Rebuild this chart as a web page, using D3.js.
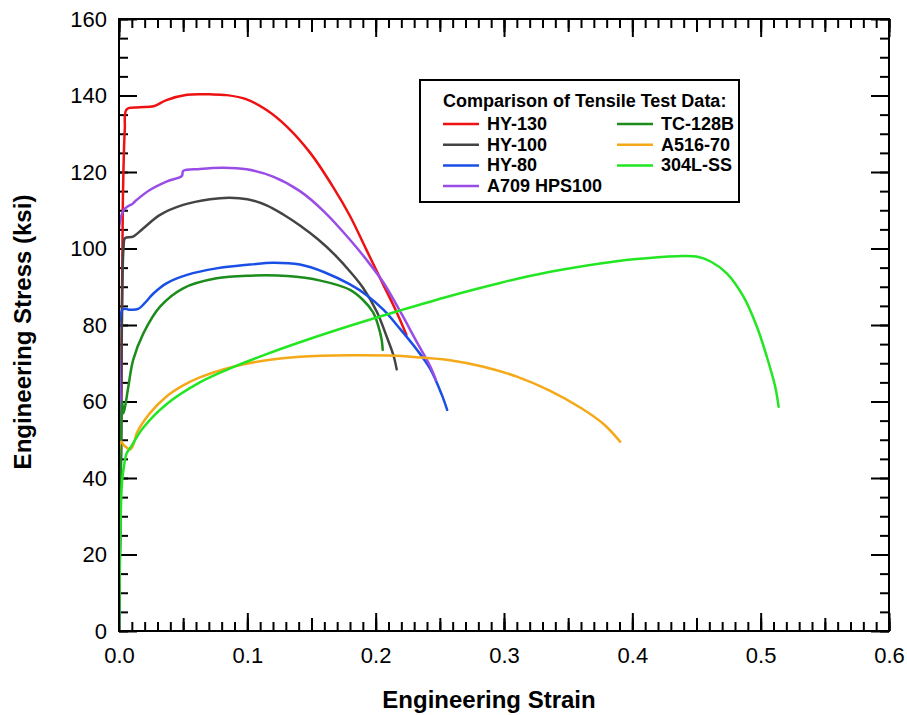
<!DOCTYPE html>
<html>
<head>
<meta charset="utf-8">
<script src="https://cdn.jsdelivr.net/npm/d3@7"></script>
<style>
  html, body { margin: 0; padding: 0; background: #fff; }
  svg { display: block; }
  text { font-family: "Liberation Sans", Arial, Helvetica, sans-serif; }
</style>
</head>
<body>
<svg id="chart" width="907" height="715"></svg>
<script>
// ---------------- DATA ----------------
const seriesNames = ["HY-130", "HY-100", "HY-80", "A709 HPS100", "TC-128B", "A516-70", "304L-SS"];
const seriesColors = ["#ee1111", "#444444", "#1a4fe6", "#9a4de6", "#1c8c1c", "#f5a818", "#22e622"];

const hy130Strain = [0, 0.0015, 0.003, 0.0045, 0.006, 0.016, 0.027, 0.037, 0.053, 0.071, 0.084, 0.0995, 0.115, 0.131, 0.149, 0.167, 0.180, 0.193, 0.206, 0.216, 0.224];
const hy130Stress = [0, 50, 112, 131, 136.4, 136.9, 137.2, 138.8, 140.2, 140.3, 140.1, 139.0, 136.2, 131.8, 125.0, 116.0, 108.5, 99.5, 90.5, 83.6, 77.4];

const hy100Strain = [0, 0.0015, 0.0035, 0.0047, 0.011, 0.019, 0.032, 0.050, 0.071, 0.086, 0.100, 0.115, 0.128, 0.141, 0.155, 0.168, 0.180, 0.190, 0.201, 0.209, 0.214, 0.2164];
const hy100Stress = [0, 45, 100, 102.7, 103.1, 105.3, 108.8, 111.4, 112.9, 113.3, 112.9, 111.3, 108.9, 106.0, 102.4, 98.4, 94.0, 89.8, 83.4, 76.6, 71.9, 68.4];

const hy80Strain = [0, 0.0015, 0.003, 0.008, 0.015, 0.020, 0.027, 0.037, 0.053, 0.076, 0.102, 0.120, 0.141, 0.160, 0.180, 0.193, 0.206, 0.219, 0.232, 0.2424, 0.2515, 0.2557];
const hy80Stress = [0, 45, 84.1, 84.0, 84.2, 85.7, 88.3, 90.9, 93.1, 94.8, 95.8, 96.3, 95.8, 93.8, 90.6, 87.8, 84.0, 79.0, 73.6, 68.6, 61.8, 57.8];

const a709Strain = [0, 0.0015, 0.0029, 0.011, 0.0138, 0.024, 0.037, 0.049, 0.050, 0.063, 0.081, 0.0995, 0.120, 0.141, 0.160, 0.180, 0.193, 0.206, 0.219, 0.232, 0.2424, 0.247];
const a709Stress = [0, 50, 109.6, 111.8, 112.7, 115.3, 117.5, 119.0, 120.3, 120.8, 121.1, 120.7, 118.8, 115.0, 109.6, 102.3, 97.0, 91.1, 83.6, 75.6, 69.3, 65.6];

const tc128Strain = [0, 0.0015, 0.0025, 0.0034, 0.0047, 0.0073, 0.011, 0.019, 0.032, 0.050, 0.076, 0.102, 0.131, 0.157, 0.180, 0.190, 0.198, 0.202, 0.2047, 0.2055];
const tc128Stress = [0, 45, 60, 56.9, 58.6, 63.9, 70.8, 77.8, 84.8, 89.6, 92.2, 92.9, 92.8, 91.6, 89.2, 86.6, 83.3, 79.8, 76.1, 73.5];

const a516Strain = [0, 0.0017, 0.004, 0.009, 0.012, 0.0138, 0.024, 0.037, 0.050, 0.063, 0.089, 0.115, 0.141, 0.180, 0.210, 0.232, 0.258, 0.284, 0.310, 0.336, 0.360, 0.378, 0.3905];
const a516Stress = [0, 49.5, 48.5, 47.5, 49.5, 51.7, 56.9, 61.3, 64.2, 66.3, 69.1, 70.8, 71.7, 72.1, 72.0, 71.6, 70.8, 69.1, 66.5, 62.8, 58.3, 54.0, 49.5];

const ss304Strain = [0, 0.002, 0.003, 0.006, 0.0086, 0.019, 0.037, 0.063, 0.089, 0.115, 0.141, 0.180, 0.219, 0.258, 0.297, 0.336, 0.375, 0.401, 0.435, 0.450, 0.461, 0.4736, 0.4866, 0.497, 0.5048, 0.5113, 0.514];
const ss304Stress = [0, 37, 41, 46.5, 47.8, 53.2, 59.3, 65.0, 69.0, 72.4, 75.5, 79.8, 83.8, 87.6, 91.0, 93.9, 96.1, 97.2, 98.0, 97.9, 96.6, 93.5, 87.4, 79.6, 71.7, 63.9, 58.6];

const seriesStrain = [hy130Strain, hy100Strain, hy80Strain, a709Strain, tc128Strain, a516Strain, ss304Strain];
const seriesStress = [hy130Stress, hy100Stress, hy80Stress, a709Stress, tc128Stress, a516Stress, ss304Stress];

const xTickLabels = [0, 0.1, 0.2, 0.3, 0.4, 0.5, 0.6];
const yTickLabels = [0, 20, 40, 60, 80, 100, 120, 140, 160];

const xTitle = "Engineering Strain";
const yTitle = "Engineering Stress (ksi)";
const legendTitle = "Comparison of Tensile Test Data:";

// ---------------- LAYOUT ----------------
const svg = d3.select("#chart");
const M = { left: 119, top: 19, right: 18, bottom: 84 };
const W = 907 - M.left - M.right;   // 770
const H = 715 - M.top - M.bottom;   // 612

const x = d3.scaleLinear().domain([0, 0.6]).range([0, W]);
const y = d3.scaleLinear().domain([0, 160]).range([H, 0]);

const g = svg.append("g").attr("transform", `translate(${M.left},${M.top})`);

svg.append("defs").append("clipPath").attr("id", "clip")
  .append("rect").attr("x", 0).attr("y", 0).attr("width", W).attr("height", H);

// ---- ticks (inward on all four sides) ----
const xMinor = d3.range(0, 61).map(i => i / 100);
const xMid = d3.range(0, 13).map(i => i * 0.05);
const yMinor = d3.range(0, 33).map(i => i * 5);

function styleAxis(sel) {
  sel.select(".domain").remove();
  sel.selectAll(".tick line").attr("stroke", "#000").attr("stroke-width", 2);
  sel.selectAll("text").attr("fill", "#000").style("font-size", "22px");
}

// bottom
g.append("g").attr("transform", `translate(0,${H})`)
  .call(d3.axisBottom(x).tickValues(xMinor).tickSize(-9).tickFormat(""))
  .call(styleAxis);
g.append("g").attr("transform", `translate(0,${H})`)
  .call(d3.axisBottom(x).tickValues(xMid).tickSize(-13).tickFormat(""))
  .call(styleAxis);
g.append("g").attr("transform", `translate(0,${H})`)
  .call(d3.axisBottom(x).tickValues(xTickLabels).tickSize(-18).tickPadding(16).tickFormat(d3.format(".1f")))
  .call(styleAxis);
// top
g.append("g")
  .call(d3.axisTop(x).tickValues(xMinor).tickSize(-9).tickFormat(""))
  .call(styleAxis);
g.append("g")
  .call(d3.axisTop(x).tickValues(xMid).tickSize(-13).tickFormat(""))
  .call(styleAxis);
g.append("g")
  .call(d3.axisTop(x).tickValues(xTickLabels).tickSize(-18).tickFormat(""))
  .call(styleAxis);
// left
g.append("g")
  .call(d3.axisLeft(y).tickValues(yMinor).tickSize(-9).tickFormat(""))
  .call(styleAxis);
g.append("g")
  .call(d3.axisLeft(y).tickValues(yTickLabels).tickSize(-18).tickPadding(12).tickFormat(d3.format("d")))
  .call(styleAxis);
// right
g.append("g").attr("transform", `translate(${W},0)`)
  .call(d3.axisRight(y).tickValues(yMinor).tickSize(-9).tickFormat(""))
  .call(styleAxis);
g.append("g").attr("transform", `translate(${W},0)`)
  .call(d3.axisRight(y).tickValues(yTickLabels).tickSize(-18).tickFormat(""))
  .call(styleAxis);

// ---- curves ----
const lineGen = d3.line().x(d => x(d[0])).y(d => y(d[1])).curve(d3.curveCatmullRom.alpha(0.5));
const curves = g.append("g").attr("clip-path", "url(#clip)");
seriesNames.forEach((name, i) => {
  const pts = seriesStrain[i].map((s, j) => [s, seriesStress[i][j]]);
  curves.append("path")
    .datum(pts)
    .attr("fill", "none")
    .attr("stroke", seriesColors[i])
    .attr("stroke-width", 2.5)
    .attr("stroke-linejoin", "round")
    .attr("stroke-linecap", "round")
    .attr("d", lineGen);
});

// ---- frame ----
g.append("rect").attr("x", 0).attr("y", 0).attr("width", W).attr("height", H)
  .attr("fill", "none").attr("stroke", "#000").attr("stroke-width", 2);

// ---- axis titles ----
svg.append("text")
  .attr("x", 489).attr("y", 708)
  .attr("text-anchor", "middle")
  .style("font-size", "24px").style("font-weight", "bold")
  .text(xTitle);
svg.append("text")
  .attr("transform", `translate(31,332) rotate(-90)`)
  .attr("text-anchor", "middle")
  .style("font-size", "24px").style("font-weight", "bold")
  .text(yTitle);

// ---- legend ----
const lg = svg.append("g");
lg.append("rect").attr("x", 420).attr("y", 80).attr("width", 319).attr("height", 122)
  .attr("fill", "#fff").attr("stroke", "#000").attr("stroke-width", 2);
lg.append("text").attr("x", 443).attr("y", 107)
  .style("font-size", "18px").style("font-weight", "bold").text(legendTitle);
const legendCol = [0, 0, 0, 0, 1, 1, 1];
const legendRow = [0, 1, 2, 3, 0, 1, 2];
seriesNames.forEach((name, i) => {
  const lx = legendCol[i] === 0 ? 443 : 617;
  const ly = 130 + legendRow[i] * 20.7;
  lg.append("line").attr("x1", lx).attr("x2", lx + 36).attr("y1", ly - 6).attr("y2", ly - 6)
    .attr("stroke", seriesColors[i]).attr("stroke-width", 2.5);
  lg.append("text").attr("x", lx + 44).attr("y", ly)
    .style("font-size", "18px").style("font-weight", "bold").text(name);
});
</script>
</body>
</html>
